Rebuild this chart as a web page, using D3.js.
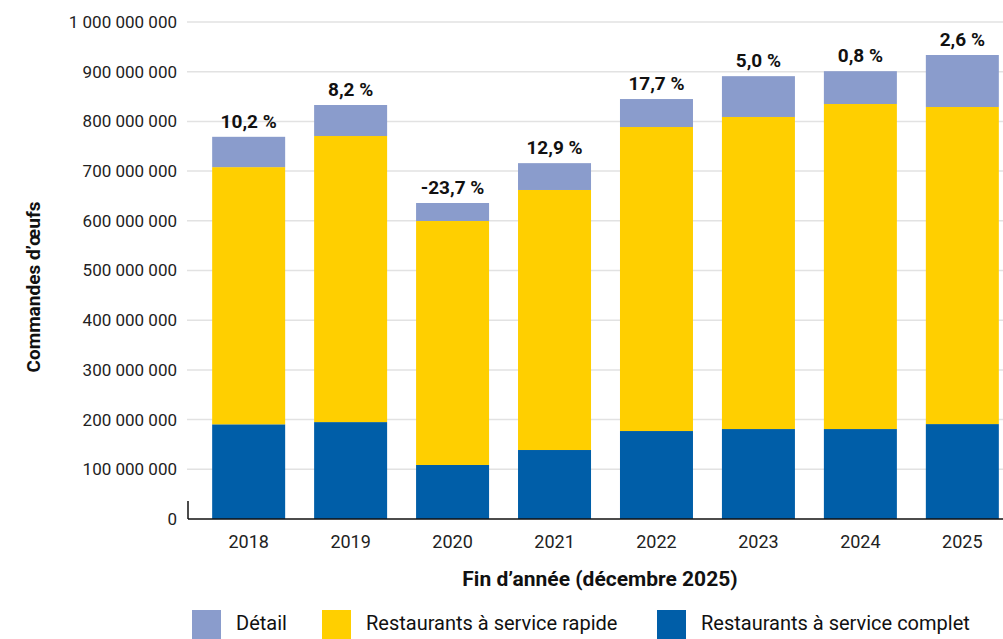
<!DOCTYPE html>
<html>
<head>
<meta charset="utf-8">
<script src="https://cdn.jsdelivr.net/npm/d3@7"></script>
<style>
  body { margin: 0; background: #fff; }
  text { font-family: Roboto, "Noto Sans", sans-serif; }
</style>
</head>
<body>
<div id="chart"></div>
<script>
// years on the x axis
var years = ["2018", "2019", "2020", "2021", "2022", "2023", "2024", "2025"];

// egg orders per segment
var complet = [190.5e6, 195e6, 108.7e6, 138.8e6, 177e6, 181e6, 181e6, 191e6];
var rapide  = [517.5e6, 575.6e6, 490.9e6, 523.2e6, 611.7e6, 627.9e6, 654e6, 638e6];
var detail  = [61e6, 62.4e6, 36.2e6, 54e6, 56.3e6, 82.1e6, 66e6, 104.6e6];

// year over year change shown above bars
var growth = ["10,2 %", "8,2 %", "-23,7 %", "12,9 %", "17,7 %", "5,0 %", "0,8 %", "2,6 %"];

var yTicks = [0, 1e8, 2e8, 3e8, 4e8, 5e8, 6e8, 7e8, 8e8, 9e8, 1e9];

var seriesNames = ["Détail", "Restaurants à service rapide", "Restaurants à service complet"];
var colors = {"complet": "#005ea8", "rapide": "#ffcf00", "detail": "#8a9ccc"};

var W = 1003, H = 639;
var svg = d3.select("#chart")
  .append("svg")
    .attr("width", W)
    .attr("height", H);

// build rows for the stack
var rows = years.map(function(y, i) {
  return {year: y, complet: complet[i], rapide: rapide[i], detail: detail[i]};
});
var keys = ["complet", "rapide", "detail"];
var stacked = d3.stack().keys(keys)(rows);

var x = d3.scaleBand()
  .domain(years)
  .range([188, 1023])
  .paddingInner(0.284)
  .paddingOuter(0.237);

var y = d3.scaleLinear()
  .domain([0, 1e9])
  .range([519, 22]);

var fmt = function(d) { return d3.format(",")(d).replace(/,/g, " "); };

// gridlines
svg.append("g")
  .selectAll("line")
  .data(yTicks.slice(1))
  .join("line")
    .attr("x1", 187)
    .attr("x2", W)
    .attr("y1", function(d) { return y(d); })
    .attr("y2", function(d) { return y(d); })
    .attr("stroke", "#e2e2e2")
    .attr("stroke-width", 1.5);

// y tick labels
svg.append("g")
  .selectAll("text")
  .data(yTicks)
  .join("text")
    .attr("x", 177)
    .attr("y", function(d) { return y(d); })
    .attr("dy", "0.35em")
    .attr("text-anchor", "end")
    .attr("font-size", 17)
    .attr("fill", "#222")
    .text(fmt);

// bars
svg.append("g")
  .selectAll("g")
  .data(stacked)
  .join("g")
    .attr("fill", function(d) { return colors[d.key]; })
  .selectAll("rect")
  .data(function(d) { return d; })
  .join("rect")
    .attr("x", function(d) { return x(d.data.year); })
    .attr("y", function(d) { return y(d[1]); })
    .attr("height", function(d) { return y(d[0]) - y(d[1]); })
    .attr("width", x.bandwidth());

// axis lines
svg.append("line")
  .attr("x1", 188).attr("x2", W)
  .attr("y1", 519).attr("y2", 519)
  .attr("stroke", "#111").attr("stroke-width", 1.5);
svg.append("line")
  .attr("x1", 188).attr("x2", 188)
  .attr("y1", 501).attr("y2", 519)
  .attr("stroke", "#111").attr("stroke-width", 1.5);

// x labels
svg.append("g")
  .selectAll("text")
  .data(years)
  .join("text")
    .attr("x", function(d) { return x(d) + x.bandwidth() / 2; })
    .attr("y", 548)
    .attr("text-anchor", "middle")
    .attr("font-size", 18)
    .attr("fill", "#222")
    .text(function(d) { return d; });

// growth labels
var topLayer = stacked[stacked.length - 1];
svg.append("g")
  .selectAll("text")
  .data(topLayer)
  .join("text")
    .attr("x", function(d) { return x(d.data.year) + x.bandwidth() / 2; })
    .attr("y", function(d) { return y(d[1]) - 9; })
    .attr("text-anchor", "middle")
    .attr("font-size", 19)
    .attr("font-weight", "bold")
    .attr("fill", "#111")
    .text(function(d, i) { return growth[i]; });

// axis titles
svg.append("text")
  .attr("transform", "translate(40,287) rotate(-90)")
  .attr("text-anchor", "middle")
  .attr("font-size", 19)
  .attr("font-weight", "bold")
  .attr("fill", "#111")
  .text("Commandes d’œufs");

svg.append("text")
  .attr("x", 600)
  .attr("y", 586)
  .attr("text-anchor", "middle")
  .attr("font-size", 21)
  .attr("font-weight", "bold")
  .attr("fill", "#111")
  .text("Fin d’année (décembre 2025)");

// legend
var legendX = [192, 322, 657];
var legendKeys = ["detail", "rapide", "complet"];
var leg = svg.append("g")
  .selectAll("g")
  .data(seriesNames)
  .join("g")
    .attr("transform", function(d, i) { return "translate(" + legendX[i] + ",610)"; });
leg.append("rect")
  .attr("width", 29)
  .attr("height", 29)
  .attr("fill", function(d, i) { return colors[legendKeys[i]]; });
leg.append("text")
  .attr("x", 44)
  .attr("y", 20)
  .attr("font-size", 20)
  .attr("fill", "#111")
  .text(function(d) { return d; });
</script>
</body>
</html>
